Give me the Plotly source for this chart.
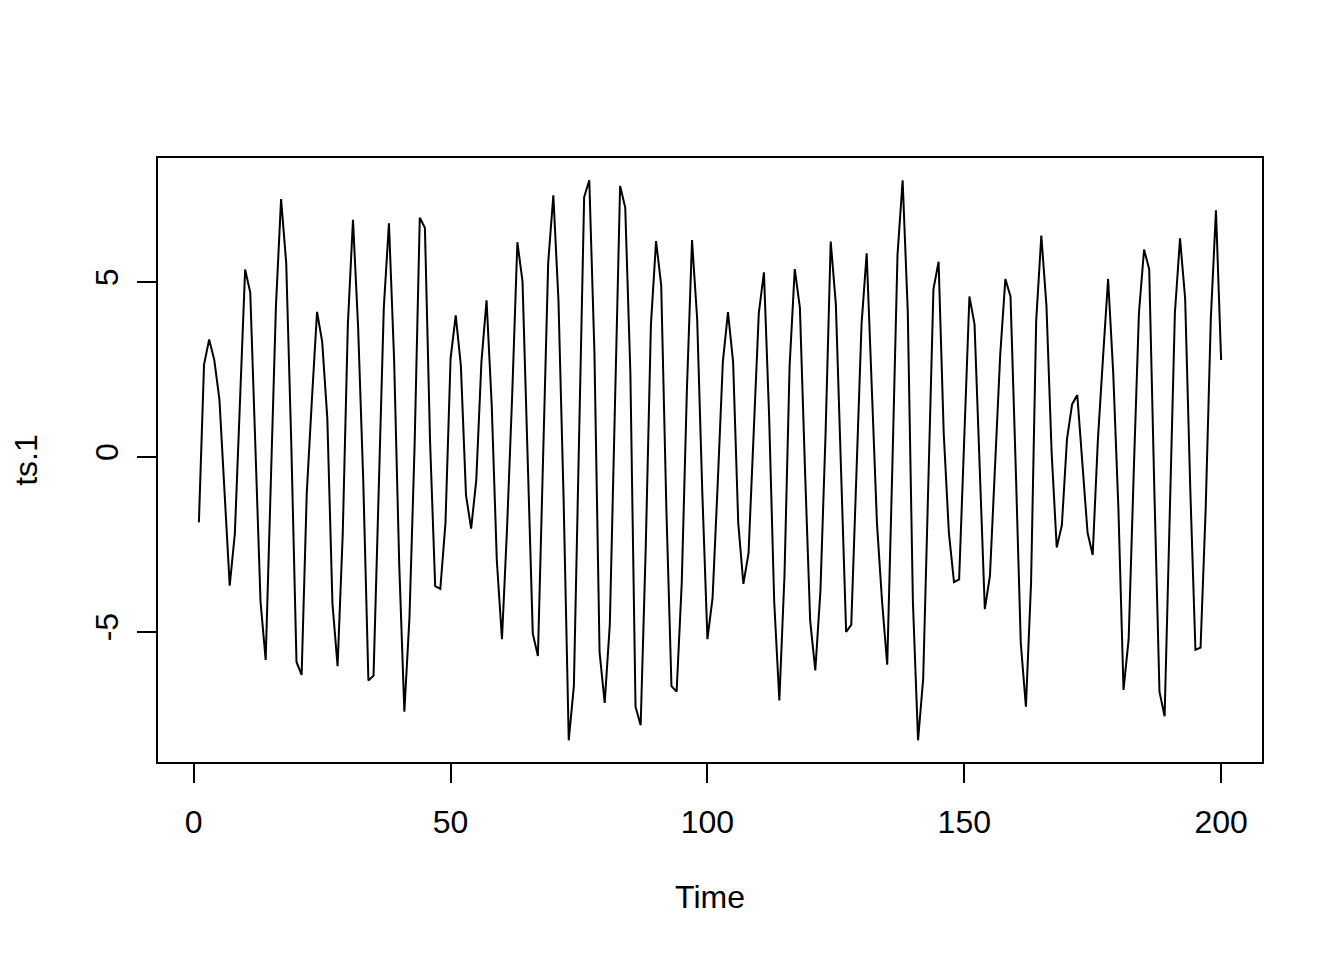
import plotly.graph_objects as go

time_index = list(range(1, 201))
ts1 = [
    -1.87, 2.64, 3.36, 2.77, 1.64, -0.90, -3.68, -2.19, 1.50, 5.36,
    4.70, 0.40, -4.14, -5.80, -1.00, 4.32, 7.37, 5.55, 0.30, -5.86,
    -6.23, -1.03, 1.64, 4.15, 3.30, 1.11, -4.19, -5.98, -2.21, 3.79,
    6.78, 3.70, -0.70, -6.39, -6.25, -0.90, 4.27, 6.68, 2.80, -3.07,
    -7.28, -4.57, 0.36, 6.84, 6.55, 0.46, -3.69, -3.77, -1.89, 2.82,
    4.05, 2.61, -1.09, -2.05, -0.66, 2.71, 4.48, 1.50, -2.96, -5.21,
    -2.00, 1.80, 6.14, 5.02, -0.18, -5.05, -5.69, 0.00, 5.55, 7.48,
    4.48, -1.21, -8.10, -6.55, 0.22, 7.43, 7.91, 3.00, -5.58, -7.03,
    -4.78, 1.48, 7.75, 7.13, 2.39, -7.14, -7.67, -2.53, 3.79, 6.17,
    4.91, -1.46, -6.55, -6.71, -3.60, 1.90, 6.20, 3.95, -1.00, -5.21,
    -4.03, -0.77, 2.71, 4.14, 2.71, -1.89, -3.63, -2.75, 0.46, 4.11,
    5.28, 1.21, -4.14, -6.96, -3.39, 2.61, 5.37, 4.27, -0.39, -4.68,
    -6.10, -3.82, 0.68, 6.16, 4.37, -0.39, -5.00, -4.80, -0.65, 3.79,
    5.82, 2.00, -1.89, -4.14, -5.94, -0.27, 5.77, 7.91, 4.16, -4.14,
    -8.10, -6.34, -0.77, 4.80, 5.58, 0.68, -2.16, -3.58, -3.50, 0.68,
    4.59, 3.79, -0.16, -4.35, -3.39, -0.34, 2.93, 5.09, 4.59, -0.21,
    -5.32, -7.14, -3.60, 3.89, 6.33, 4.32, 0.14, -2.59, -1.95, 0.52,
    1.51, 1.77, -0.18, -2.16, -2.80, 0.46, 2.82, 5.09, 2.39, -1.46,
    -6.66, -5.21, -0.39, 4.11, 5.93, 5.37, -0.93, -6.71, -7.41, -1.65,
    4.11, 6.25, 4.53, -0.93, -5.51, -5.45, -1.46, 3.97, 7.05, 2.77,
]
x_ticks = [0, 50, 100, 150, 200]
y_ticks = [-5, 0, 5]
y_ticktext = ["-5", "0", "5"]

FONT = "Liberation Sans, Arial, Helvetica, sans-serif"

fig = go.Figure()
fig.add_trace(go.Scatter(
    x=time_index, y=ts1, mode="lines",
    line=dict(color="black", width=2),
    showlegend=False, hoverinfo="skip",
))

fig.update_layout(
    width=1344, height=960,
    margin=dict(l=150, r=90, t=150, b=206),
    paper_bgcolor="white", plot_bgcolor="white",
    font=dict(family=FONT, size=32, color="black"),
    xaxis=dict(
        range=[-6.96, 207.96], tickmode="array", tickvals=x_ticks,
        ticks="outside", ticklen=19, tickwidth=1.5, tickcolor="black",
        showline=True, linecolor="black", linewidth=1.5, mirror=True,
        showgrid=False, zeroline=False, ticklabelstandoff=12,
        title=dict(text="Time", standoff=46, font=dict(size=32)),
    ),
    yaxis=dict(
        range=[-8.72, 8.547], tickmode="array", tickvals=y_ticks, ticktext=y_ticktext,
        tickangle=-90,
        ticks="outside", ticklen=19, tickwidth=1.5, tickcolor="black",
        showline=True, linecolor="black", linewidth=1.5, mirror=True,
        showgrid=False, zeroline=False, ticklabelstandoff=6,
        title=dict(text="ts.1", standoff=45, font=dict(size=32)),
    ),
)

fig.write_html("out.html")
